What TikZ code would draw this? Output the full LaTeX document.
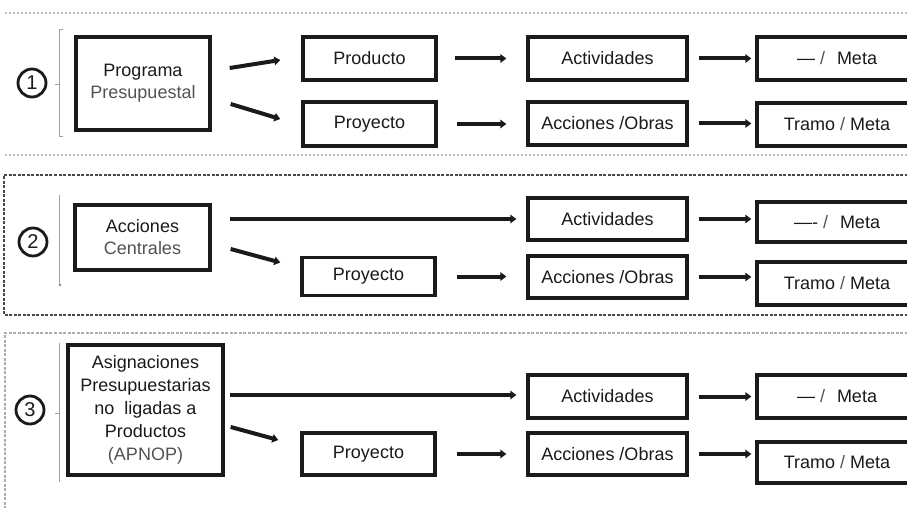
\documentclass[tikz,border=0pt]{standalone}
\usepackage{fontspec}
\setmainfont{Liberation Sans}
\usetikzlibrary{calc,arrows.meta}
\definecolor{ink}{HTML}{1A1A1A}
\definecolor{soft}{HTML}{4E554E}
\definecolor{frame}{HTML}{8A8A8A}
\begin{document}
\begin{tikzpicture}[x=1pt,y=-1pt,
  box/.style={draw=ink, line width=3.4pt, inner sep=0pt, align=center, text=ink,
    font=\fontsize{18}{22}\selectfont},
  arr/.style={draw=ink, line width=4pt, -{Triangle[length=6pt,width=8.5pt]}},
  circ/.style={draw=ink, circle, line width=2.8pt, minimum size=28pt, inner sep=0pt,
    font=\fontsize{20}{20}\selectfont, text=ink},
  brk/.style={draw=frame!80, line width=1pt},
  frm/.style={draw=frame, line width=1.3pt, dash pattern=on 3pt off 1.5pt},
  sl/.style={text=soft}]
\fill[white] (0,0) rectangle (907,508);
\useasboundingbox (0,0) rectangle (907,508);
\clip (0,0) rectangle (907,508);

% section frames
\draw[frm, draw=frame!55, dash pattern=on 2pt off 2pt] (5,13) -- (912,13);
\draw[frm, draw=frame!55, dash pattern=on 2pt off 2pt] (5,155) -- (912,155);
\draw[frm, draw=ink!80] (912,175) -- (4,175) -- (4,315) -- (912,315);
\draw[frm, draw=frame!70] (912,333) -- (5,333) -- (5,512);

% numbers and brackets
\node[circ] (n1) at (32,83) {1};
\node[circ] (n2) at (33,242) {2};
\node[circ] (n3) at (30,410) {3};
\draw[brk] (63,30) -- (59,30) -- (59,137) -- (63,137);
\draw[brk] (55,85) -- (59,85);
\draw[brk] (59,195) -- (59,285);
\fill[frame] (60,285) circle (1.3pt);
\draw[brk] (59,343) -- (59,482);
\draw[brk] (55,413) -- (59,413);

% section 1
\node[box, minimum width=134pt, minimum height=93pt] (prog) at (143,83.5)
  {Programa\\\textcolor{soft}{Presupuestal}};
\node[box, minimum width=133pt, minimum height=43pt] (prod1) at (369.5,58.5) {Producto};
\node[box, minimum width=133pt, minimum height=44pt] (proy1) at (369.5,124) {Proyecto};
\node[box, minimum width=159pt, minimum height=43pt] (act1) at (607.5,58.5) {Actividades};
\node[box, minimum width=159pt, minimum height=43pt] (acc1) at (607.5,123.5) {Acciones /Obras};
\node[box, minimum width=160pt, minimum height=43pt] (meta1) at (837,58.5)
  {--- \textcolor{soft}{/}\hspace{12pt}Meta};
\node[box, minimum width=160pt, minimum height=43pt] (tramo1) at (837,124.5)
  {Tramo \textcolor{soft}{/} Meta};

\draw[arr] ($(prog.east)+(18,-15.5)$) -- ($(prod1.west)+(-21,1.5)$);
\draw[arr] ($(prog.east)+(19,20.5)$) -- ($(proy1.west)+(-21,-5)$);
\draw[arr, shorten <=17pt, shorten >=20pt] (prod1.east) -- (act1.west);
\draw[arr, shorten <=19pt, shorten >=20pt] (proy1.east) -- (proy1.east -| acc1.west);
\draw[arr, shorten <=10pt, shorten >=4pt] (act1.east) -- (act1.east -| meta1.west);
\draw[arr, shorten <=10pt, shorten >=4pt] (acc1.east) -- (acc1.east -| tramo1.west);

% section 2
\node[box, minimum width=135pt, minimum height=65pt] (ac) at (142.5,237.5)
  {Acciones\\\textcolor{soft}{Centrales}};
\node[box, minimum width=159pt, minimum height=42pt] (act2) at (607.5,219) {Actividades};
\node[box, minimum width=133pt, minimum height=38pt] (proy2) at (368.5,276.5) {Proyecto};
\node[box, minimum width=159pt, minimum height=42pt] (acc2) at (607.5,277) {Acciones /Obras};
\node[box, minimum width=160pt, minimum height=40pt] (meta2) at (837,222)
  {---- \textcolor{soft}{/}\hspace{12pt}Meta};
\node[box, minimum width=160pt, minimum height=43pt] (tramo2) at (837,283.5)
  {Tramo \textcolor{soft}{/} Meta};

\draw[arr] ($(ac.east)+(18,-18.5)$) -- ($(act2.west)+(-10,0)$);
\draw[arr] ($(ac.east)+(19,11.5)$) -- ($(proy2.west)+(-20,-14)$);
\draw[arr, shorten <=20pt, shorten >=20pt] (proy2.east) -- (proy2.east -| acc2.west);
\draw[arr, shorten <=10pt, shorten >=4pt] (act2.east) -- (act2.east -| meta2.west);
\draw[arr, shorten <=10pt, shorten >=4pt] (acc2.east) -- (acc2.east -| tramo2.west);

% section 3
\node[box, minimum width=155pt, minimum height=130pt, font=\fontsize{18}{23}\selectfont] (ap) at (145.5,410)
  {Asignaciones\\Presupuestarias\\no\ \ ligadas a\\Productos\\\textcolor{soft}{(APNOP)}};
\node[box, minimum width=159pt, minimum height=43pt] (act3) at (607.5,396.5) {Actividades};
\node[box, minimum width=133pt, minimum height=42pt] (proy3) at (368.5,454) {Proyecto};
\node[box, minimum width=159pt, minimum height=42pt] (acc3) at (607.5,454) {Acciones /Obras};
\node[box, minimum width=160pt, minimum height=43pt] (meta3) at (837,396.5)
  {--- \textcolor{soft}{/}\hspace{12pt}Meta};
\node[box, minimum width=160pt, minimum height=41pt] (tramo3) at (837,462.5)
  {Tramo \textcolor{soft}{/} Meta};

\draw[arr] ($(ap.east)+(5,-15)$) -- ($(act3.west)+(-10,-1.5)$);
\draw[arr] ($(ap.east)+(6,17)$) -- ($(proy3.west)+(-22,-14)$);
\draw[arr, shorten <=20pt, shorten >=20pt] (proy3.east) -- (acc3.west);
\draw[arr, shorten <=10pt, shorten >=4pt] (act3.east) -- (act3.east -| meta3.west);
\draw[arr, shorten <=10pt, shorten >=4pt] (acc3.east) -- (acc3.east -| tramo3.west);
\end{tikzpicture}
\end{document}
